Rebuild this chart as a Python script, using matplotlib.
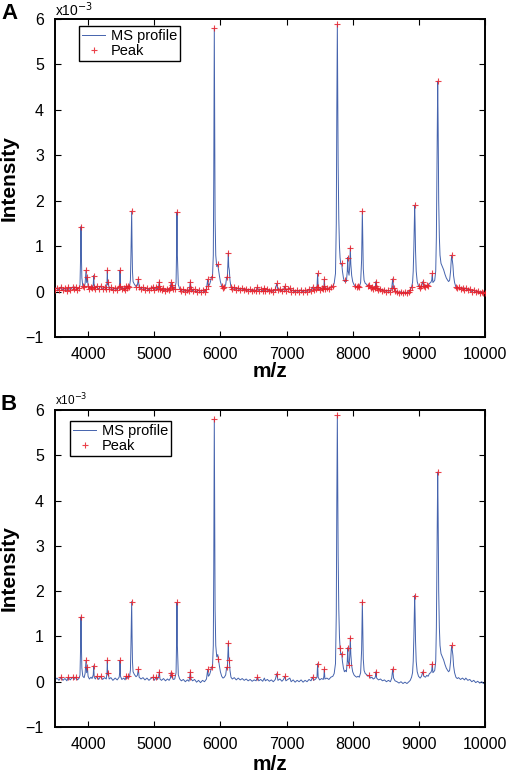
import numpy as np
import matplotlib
matplotlib.use("Agg")
import matplotlib.pyplot as plt

plt.rcParams['font.family'] = ['Liberation Sans', 'DejaVu Sans']

# ---------------- data (intensity in units of 1e-3) ----------------
profile_mz = [
    3500, 3530, 3560, 3591, 3620, 3650, 3680, 3700, 3730, 3766, 3790, 3816, 3840, 3865,
    3878, 3886, 3893, 3899, 3906, 3920, 3940, 3955, 3969, 3978, 3990, 4000, 4020, 4045,
    4060, 4078, 4085, 4093, 4110, 4130, 4160, 4190, 4220, 4250, 4275, 4286, 4291, 4297,
    4306, 4318, 4345, 4375, 4410, 4440, 4470, 4478, 4483, 4490, 4510, 4540, 4560, 4575,
    4590, 4605, 4625, 4640, 4648, 4654, 4659, 4665, 4671, 4680, 4700, 4725, 4745, 4760,
    4772, 4800, 4830, 4860, 4890, 4920, 4950, 4977, 5000, 5030, 5050, 5068, 5077, 5087,
    5110, 5140, 5170, 5200, 5225, 5245, 5253, 5262, 5270, 5285, 5310, 5330, 5338, 5344,
    5350, 5356, 5364, 5385, 5410, 5440, 5470, 5500, 5525, 5536, 5546, 5556, 5580, 5610,
    5640, 5670, 5700, 5730, 5760, 5790, 5808, 5818, 5835, 5850, 5868, 5880, 5893, 5900,
    5908, 5914, 5920, 5930, 5945, 5960, 5970, 5985, 6000, 6020, 6040, 6060, 6080, 6095,
    6105, 6113, 6120, 6126, 6135, 6145, 6160, 6180, 6210, 6240, 6270, 6300, 6330, 6360,
    6390, 6420, 6450, 6480, 6510, 6540, 6560, 6580, 6610, 6640, 6665, 6680, 6710, 6740,
    6770, 6800, 6830, 6853, 6870, 6900, 6930, 6955, 6975, 6990, 7020, 7050, 7070, 7100,
    7130, 7160, 7190, 7220, 7250, 7280, 7310, 7340, 7370, 7393, 7410, 7440, 7460, 7470,
    7478, 7500, 7530, 7555, 7565, 7571, 7580, 7610, 7640, 7670, 7700, 7720, 7740, 7752,
    7760, 7768, 7774, 7780, 7790, 7800, 7809, 7820, 7834, 7845, 7860, 7875, 7890, 7905,
    7918, 7925, 7932, 7945, 7955, 7964, 7972, 7985, 8000, 8020, 8040, 8060, 8080, 8100,
    8120, 8135, 8141, 8146, 8152, 8160, 8172, 8190, 8210, 8230, 8251, 8270, 8290, 8310,
    8335, 8345, 8353, 8362, 8390, 8420, 8450, 8480, 8510, 8540, 8570, 8590, 8605, 8618,
    8640, 8670, 8700, 8730, 8760, 8790, 8820, 8850, 8870, 8890, 8905, 8915, 8925, 8932,
    8937, 8943, 8950, 8960, 8975, 8995, 9020, 9040, 9060, 9075, 9100, 9120, 9140, 9160,
    9180, 9195, 9203, 9212, 9225, 9240, 9255, 9265, 9275, 9285, 9292, 9300, 9310, 9320,
    9335, 9355, 9375, 9395, 9415, 9435, 9450, 9465, 9480, 9490, 9497, 9505, 9515, 9525,
    9540, 9560, 9580, 9600, 9630, 9660, 9690, 9710, 9740, 9770, 9800, 9830, 9860, 9890,
    9920, 9950, 9975, 10000]

profile_int = [
    0.04, 0.08, 0.03, 0.10, 0.03, 0.07, 0.02, 0.10, 0.04, 0.10, 0.05, 0.10, 0.04, 0.08,
    0.15, 0.70, 1.43, 0.80, 0.30, 0.12, 0.09, 0.18, 0.47, 0.20, 0.32, 0.12, 0.06, 0.10,
    0.07, 0.15, 0.35, 0.10, 0.06, 0.12, 0.05, 0.12, 0.05, 0.09, 0.06, 0.20, 0.47, 0.15,
    0.20, 0.06, 0.09, 0.03, 0.08, 0.04, 0.10, 0.20, 0.47, 0.12, 0.05, 0.08, 0.04, 0.12,
    0.07, 0.12, 0.10, 0.25, 0.80, 1.40, 1.77, 1.00, 0.45, 0.22, 0.16, 0.11, 0.14, 0.28,
    0.10, 0.06, 0.09, 0.04, 0.08, 0.03, 0.07, 0.10, 0.03, 0.10, 0.05, 0.12, 0.22, 0.06,
    0.03, 0.07, 0.02, 0.06, 0.03, 0.08, 0.20, 0.10, 0.15, 0.05, 0.06, 0.20, 0.90, 1.75,
    0.80, 0.50, 0.15, 0.06, 0.02, 0.05, 0.00, 0.04, 0.01, 0.10, 0.22, 0.06, 0.02, 0.05,
    -0.01, 0.03, -0.02, 0.03, 0.00, 0.06, 0.27, 0.12, 0.15, 0.22, 0.33, 0.30, 0.80, 2.50,
    5.80, 3.80, 1.60, 0.80, 0.55, 0.60, 0.50, 0.35, 0.22, 0.12, 0.08, 0.10, 0.15, 0.32,
    0.30, 0.60, 0.85, 0.55, 0.47, 0.25, 0.10, 0.06, 0.09, 0.04, 0.08, 0.04, 0.07, 0.03,
    0.06, 0.02, 0.05, 0.01, 0.04, 0.02, 0.10, 0.02, 0.05, 0.01, 0.08, 0.02, 0.05, 0.01,
    0.04, 0.00, 0.05, 0.18, 0.03, 0.06, 0.01, 0.05, 0.12, 0.02, 0.05, 0.08, 0.00, 0.04,
    -0.01, 0.03, 0.00, 0.04, -0.01, 0.03, 0.00, 0.05, 0.02, 0.10, 0.03, 0.06, 0.10, 0.40,
    0.10, 0.04, 0.07, 0.05, 0.12, 0.27, 0.06, 0.08, 0.05, 0.10, 0.12, 0.18, 0.40, 1.50,
    4.00, 5.88, 4.50, 2.80, 1.60, 1.00, 0.75, 0.60, 0.62, 0.45, 0.30, 0.22, 0.25, 0.22,
    0.45, 0.75, 0.45, 0.36, 0.55, 0.97, 0.60, 0.35, 0.22, 0.15, 0.12, 0.10, 0.12, 0.10,
    0.20, 0.70, 1.30, 1.77, 1.20, 0.50, 0.25, 0.18, 0.16, 0.12, 0.14, 0.08, 0.10, 0.06,
    0.08, 0.12, 0.22, 0.08, 0.04, 0.06, 0.02, 0.04, 0.00, 0.03, 0.00, 0.08, 0.28, 0.08,
    0.02, 0.00, -0.03, 0.00, -0.04, -0.01, -0.04, 0.00, 0.03, 0.10, 0.20, 0.45, 1.00, 1.60,
    1.90, 1.50, 0.90, 0.45, 0.22, 0.12, 0.08, 0.12, 0.22, 0.12, 0.10, 0.14, 0.12, 0.18,
    0.20, 0.25, 0.40, 0.20, 0.22, 0.25, 0.45, 1.20, 2.80, 4.63, 3.60, 2.00, 1.20, 0.80,
    0.62, 0.55, 0.48, 0.38, 0.30, 0.25, 0.22, 0.25, 0.45, 0.70, 0.80, 0.70, 0.58, 0.35,
    0.20, 0.10, 0.07, 0.09, 0.05, 0.08, 0.04, 0.08, 0.03, 0.05, 0.00, 0.03, -0.02, 0.01,
    -0.03, 0.00, -0.04, -0.03]

# selected peaks (panel B)
peaks_b_mz = [3591, 3700, 3766, 3816, 3893, 3969, 3990, 4085, 4130, 4190, 4291, 4306,
              4483, 4575, 4605, 4659, 4760, 4977, 5030, 5077, 5253, 5270, 5344, 5536,
              5546, 5808, 5868, 5908, 5970, 6095, 6120, 6135, 6560, 6853, 6975, 7393,
              7470, 7571, 7768, 7809, 7834, 7925, 7945, 7964, 8146, 8251, 8353, 8605,
              8937, 9060, 9203, 9285, 9497]
peaks_b_int = [0.10, 0.10, 0.10, 0.10, 1.43, 0.47, 0.32, 0.35, 0.12, 0.12, 0.47, 0.20,
               0.47, 0.12, 0.12, 1.77, 0.28, 0.10, 0.10, 0.22, 0.20, 0.15, 1.75, 0.10,
               0.22, 0.27, 0.33, 5.80, 0.50, 0.32, 0.85, 0.47, 0.10, 0.18, 0.12, 0.10,
               0.40, 0.27, 5.88, 0.75, 0.62, 0.75, 0.36, 0.97, 1.77, 0.14, 0.22, 0.28,
               1.90, 0.22, 0.40, 4.63, 0.80]

x_ticks = [4000, 5000, 6000, 7000, 8000, 9000, 10000]
y_ticks = [-1, 0, 1, 2, 3, 4, 5, 6]

# ---------------- figure ----------------
W, H = 507, 772
fig = plt.figure(figsize=(W / 100, H / 100), dpi=100)

def px_axes(l, t, r, b):
    return fig.add_axes([l / W, 1 - b / H, (r - l) / W, (b - t) / H])

mz = np.array(profile_mz, dtype=float)
inten = np.array(profile_int, dtype=float)
# panel A: raw detection -> every local maximum and every baseline noise point is a "peak"
is_max = np.r_[False, (inten[1:-1] > inten[:-2]) & (inten[1:-1] >= inten[2:]), False]
is_noise = inten <= 0.12
sel_a = is_max | is_noise
peaks_a_mz = mz[sel_a]
peaks_a_int = inten[sel_a]

line_color = '#4563ad'
peak_color = '#e8202a'

panels = [
    dict(box=(55, 19, 485, 337), letter='A', letter_y=13.5, mlab_y=372, ilab_y=178,
         exp_y=0.5, exp_fs=10, leg=((79 - 55) / 430, (337 - 26) / 318),
         pk=(peaks_a_mz, peaks_a_int)),
    dict(box=(55, 410, 485, 727), letter='B', letter_y=405, mlab_y=764, ilab_y=568,
         exp_y=392, exp_fs=8.5, leg=((70 - 55) / 430, (727 - 421) / 317),
         pk=(np.array(peaks_b_mz), np.array(peaks_b_int))),
]

for p in panels:
    l, t, r, b = p['box']
    ax = px_axes(l, t, r, b)
    ax.plot(mz, inten, color=line_color, lw=0.7, label='MS profile', zorder=2)
    ax.plot(p['pk'][0], p['pk'][1], linestyle='none', marker='+', ms=5, mew=0.8,
            color=peak_color, alpha=0.85, label='Peak', zorder=3)
    ax.set_xlim(3500, 10000)
    ax.set_ylim(-1, 6)
    ax.set_xticks(x_ticks)
    ax.set_yticks(y_ticks)
    ax.set_yticklabels(['\u22121' if v < 0 else str(v) for v in y_ticks])
    ax.tick_params(direction='in', top=True, right=True, length=4, width=0.8,
                   labelsize=11.5, colors='black')
    ax.tick_params(axis='y', pad=8)
    ax.tick_params(axis='x', pad=7)
    for s in ax.spines.values():
        s.set_linewidth(1.4)
    leg = ax.legend(loc='upper left', bbox_to_anchor=p['leg'], borderaxespad=0,
                    fontsize=10.5, frameon=True, fancybox=False, framealpha=1,
                    edgecolor='black', handlelength=1.6, handletextpad=0.4,
                    labelspacing=0.1, borderpad=0.2)
    leg.get_frame().set_linewidth(1.0)
    fig.text(9 / W, 1 - p['letter_y'] / H, p['letter'], fontsize=16, fontweight='bold',
             ha='center', va='center')
    fig.text(270 / W, 1 - p['mlab_y'] / H, 'm/z', fontsize=15, fontweight='bold',
             ha='center', va='center')
    fig.text(9 / W, 1 - p['ilab_y'] / H, 'Intensity', fontsize=15, fontweight='bold',
             ha='center', va='center', rotation=90)
    fig.text(55 / W, 1 - p['exp_y'] / H, 'x10$^{-3}$', fontsize=p['exp_fs'],
             ha='left', va='top')

fig.savefig('out.png', dpi=100)
